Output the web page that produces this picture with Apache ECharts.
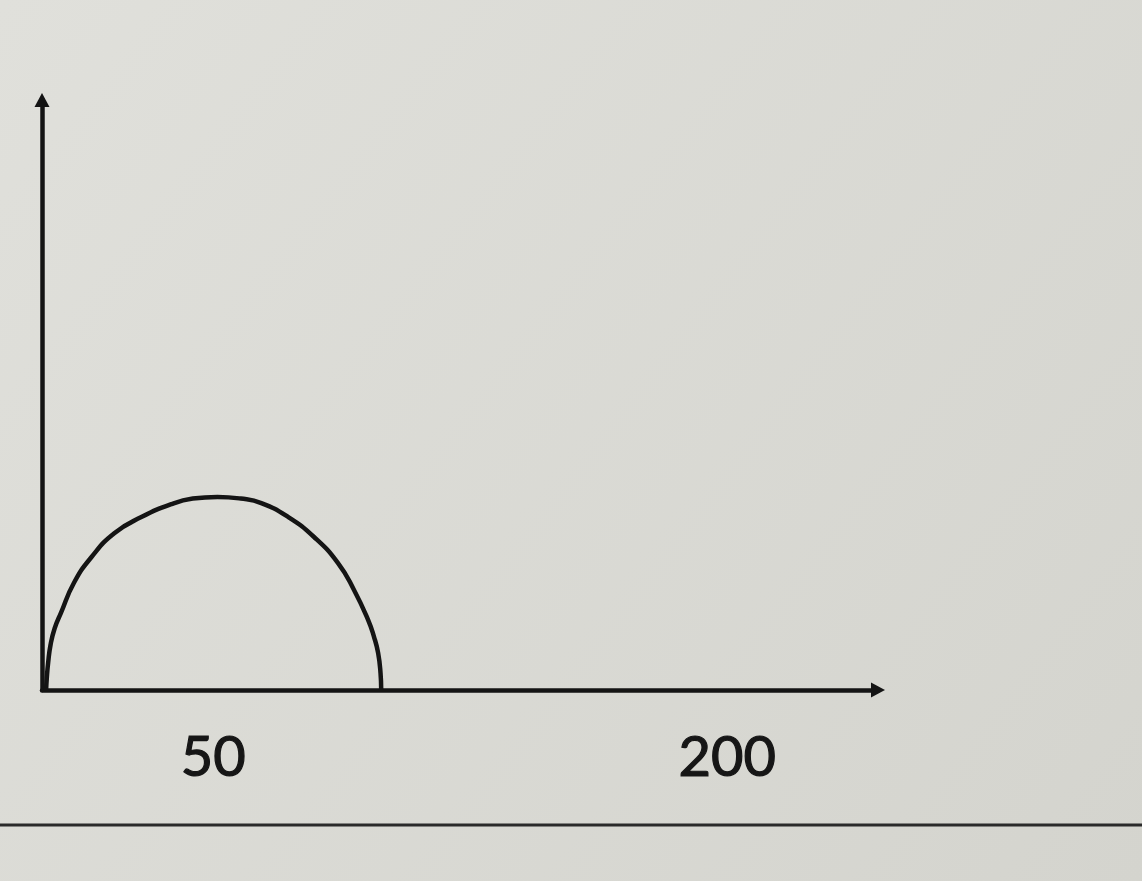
<!DOCTYPE html>
<html>
<head>
<meta charset="utf-8">
<script src="https://cdn.jsdelivr.net/npm/echarts@6/dist/echarts.min.js"></script>
<style>
  html, body { margin: 0; padding: 0; }
  #main { width: 1142px; height: 881px; }
</style>
</head>
<body>
<div id="main"></div>
<script>
// arc points (x, height)
var arcX = [1.2, 1.4, 1.8, 2.5, 3.7, 5.5, 9.3, 14.4, 21.1, 29.0, 37.8, 44.0, 51.2, 58.0, 64.0, 71.9, 79.4, 86.4, 91.1, 95.2, 96.9, 98.1, 98.8, 99.0]
var arcY = [0, 3.5, 8.0, 13.2, 18.0, 22.4, 31.2, 38.7, 45.7, 50.4, 54.2, 55.8, 56.3, 55.8, 54.5, 50.4, 44.6, 37.0, 29.1, 20.4, 15.5, 10.8, 5.0, 0]
var tickLabels = [50, 200]

var Chart = echarts.init(document.getElementById('main'))
var option = {
    backgroundColor: {
        type: 'linear', x: 0, y: 0, x2: 1, y2: 1,
        colorStops: [
            { offset: 0, color: '#e0e0db' },
            { offset: 1, color: '#d4d4ce' }
        ]
    },
    animation: false,
    grid: {
        left: 42,
        right: 264,
        top: 100,
        bottom: 191
    },
    xAxis: {
        type: 'value',
        min: 0,
        max: 244,
        interval: 50,
        splitLine: { show: false },
        axisTick: { show: false },
        axisLine: {
            show: true,
            symbol: ['none', 'triangle'],
            symbolSize: [15, 14],
            lineStyle: { color: '#141414', width: 4.5 }
        },
        axisLabel: {
            margin: 40,
            fontSize: 56,
            fontFamily: 'Lato',
            color: '#161616',
            textBorderColor: '#161616',
            textBorderWidth: 1.2,
            formatter: function (v) {
                return tickLabels.indexOf(v) >= 0 ? String(v) : ''
            }
        }
    },
    yAxis: {
        type: 'value',
        min: 0,
        max: 172,
        splitLine: { show: false },
        axisTick: { show: false },
        axisLabel: { show: false },
        axisLine: {
            show: true,
            onZero: false,
            symbol: ['none', 'triangle'],
            symbolSize: [15, 14],
            lineStyle: { color: '#141414', width: 4.5 }
        }
    },
    series: [
        {
            type: 'line',
            data: arcX.map(function (x, i) { return [x, arcY[i]] }),
            smooth: 0.5,
            showSymbol: false,
            lineStyle: { color: '#141414', width: 4.5 }
        }
    ],
    graphic: [
        {
            type: 'line',
            shape: { x1: 0, y1: 825, x2: 1142, y2: 825 },
            style: { stroke: '#2a2a2a', lineWidth: 3 }
        }
    ]
}
Chart.setOption(option)
</script>
</body>
</html>
